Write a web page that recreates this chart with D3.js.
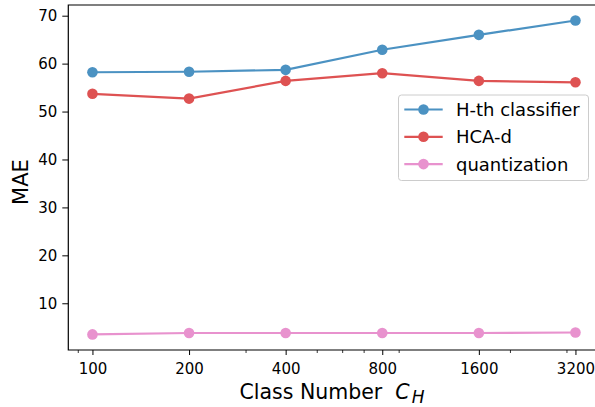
<!DOCTYPE html>
<html>
<head>
<meta charset="utf-8">
<script src="https://cdn.jsdelivr.net/npm/d3@7"></script>
<style>
  body { margin: 0; background: #fff; }
  svg { display: block; font-family: "DejaVu Sans", sans-serif; }
</style>
</head>
<body>
<svg id="chart" width="595" height="407"></svg>
<script>
// data
const classNumbers = [100, 200, 400, 800, 1600, 3200];
const hthClassifier = [58.2, 58.3, 58.7, 62.9, 66.0, 69.0];
const hcaD = [53.7, 52.7, 56.4, 58.0, 56.4, 56.1];
const quantization = [3.5, 3.8, 3.8, 3.8, 3.8, 3.9];
const yTicks = [10, 20, 30, 40, 50, 60, 70];
const minorTicks = [90, 300, 500, 600, 700, 900, 2000, 3000];

const series = [
    { name: "H-th classifier", values: hthClassifier, color: "#1f77b4" },
    { name: "HCA-d", values: hcaD, color: "#d62728" },
    { name: "quantization", values: quantization, color: "#e377c2" }
];

let svg = d3.select("#chart");
let plotLeft = 68.3, plotRight = 599.6, plotTop = 5, plotBottom = 350;

let x = d3.scaleLog().base(2)
    .domain([100 * Math.pow(2, -0.25), 3200 * Math.pow(2, 0.25)])
    .range([plotLeft, plotRight]);

let y = d3.scaleLinear()
    .domain([0.25, 72.23])
    .range([plotBottom, plotTop]);

// y axis
let yAxis = svg.append("g")
    .attr("transform", "translate(" + plotLeft + ",0)")
    .call(d3.axisLeft(y).tickValues(yTicks).tickSize(6).tickPadding(5).tickFormat(d3.format("d")));
yAxis.select(".domain").remove();
yAxis.selectAll("text").attr("font-size", "15px").attr("fill", "#000").attr("font-family", "DejaVu Sans");
yAxis.selectAll("line").attr("stroke", "#000").attr("stroke-width", 1);

// x axis, major then minor ticks
let xAxis = svg.append("g")
    .attr("transform", "translate(0," + plotBottom + ")")
    .call(d3.axisBottom(x).tickValues(classNumbers).tickSize(5).tickPadding(8).tickFormat(d3.format("d")));
xAxis.select(".domain").remove();
xAxis.selectAll("text").attr("font-size", "15px").attr("fill", "#000").attr("font-family", "DejaVu Sans");
xAxis.selectAll("line").attr("stroke", "#000").attr("stroke-width", 1);

let xMinor = svg.append("g")
    .attr("transform", "translate(0," + plotBottom + ")")
    .call(d3.axisBottom(x).tickValues(minorTicks).tickSize(3).tickFormat(""));
xMinor.select(".domain").remove();
xMinor.selectAll("line").attr("stroke", "#000").attr("stroke-width", 0.8);

// spines (right one falls off the canvas like the reference)
svg.append("path")
    .attr("d", "M" + plotRight + "," + plotTop + " H" + plotLeft + " V" + plotBottom + " H" + plotRight)
    .attr("fill", "none")
    .attr("stroke", "#000")
    .attr("stroke-width", 1.2);

// lines and markers
let line = d3.line()
    .x((d, i) => x(classNumbers[i]))
    .y(d => y(d));

series.forEach(function (s) {
    let g = svg.append("g").attr("opacity", 0.8);
    g.append("path")
        .attr("d", line(s.values))
        .attr("fill", "none")
        .attr("stroke", s.color)
        .attr("stroke-width", 2.2);
    g.selectAll("circle")
        .data(s.values)
        .enter().append("circle")
        .attr("cx", (d, i) => x(classNumbers[i]))
        .attr("cy", d => y(d))
        .attr("r", 5.3)
        .attr("fill", s.color);
});

// axis labels
svg.append("text")
    .attr("x", 239.5)
    .attr("y", 398.5)
    .attr("font-size", "20.5px")
    .html('Class Number<tspan font-style="italic" dx="13">C</tspan><tspan font-style="italic" font-size="17px" dx="2" dy="4">H</tspan>');

svg.append("text")
    .attr("transform", "translate(27.5,182) rotate(-90)")
    .attr("text-anchor", "middle")
    .attr("font-size", "21px")
    .text("MAE");

// legend
let legend = svg.append("g");
legend.append("rect")
    .attr("x", 398.5).attr("y", 95)
    .attr("width", 190).attr("height", 85.5)
    .attr("rx", 3)
    .attr("fill", "#fff").attr("fill-opacity", 0.8)
    .attr("stroke", "#ccc");

series.forEach(function (s, i) {
    let ly = 109.5 + i * 27.3;
    let g = legend.append("g").attr("opacity", 0.8);
    g.append("line")
        .attr("x1", 404.3).attr("x2", 442.7)
        .attr("y1", ly).attr("y2", ly)
        .attr("stroke", s.color).attr("stroke-width", 2.2);
    g.append("circle")
        .attr("cx", 423.5).attr("cy", ly).attr("r", 5.3)
        .attr("fill", s.color);
    legend.append("text")
        .attr("x", 456).attr("y", ly)
        .attr("dy", "0.36em")
        .attr("font-size", "18px")
        .text(s.name);
});
</script>
</body>
</html>
